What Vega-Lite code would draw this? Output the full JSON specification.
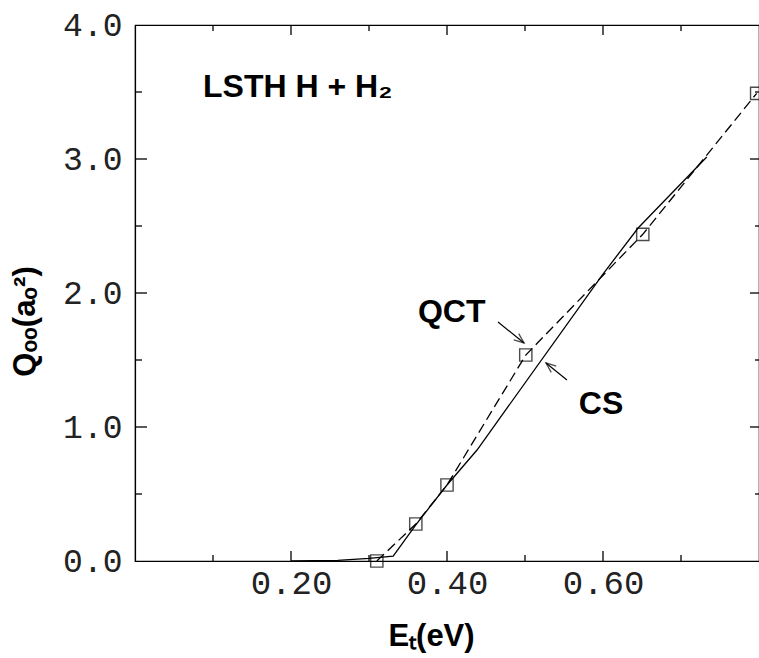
{
  "$schema": "https://vega.github.io/schema/vega-lite/v6.json",
  "width": 624,
  "height": 536,
  "autosize": {"type": "none"},
  "padding": {"left": 135, "top": 25, "right": 0, "bottom": 97},
  "background": "white",
  "config": {
    "view": {"stroke": "black", "strokeWidth": 1.2}
  },
  "datasets": {
    "cs": [
      {"E": 0.20, "Q": 0.0},
      {"E": 0.26, "Q": 0.005},
      {"E": 0.30, "Q": 0.02},
      {"E": 0.331, "Q": 0.037},
      {"E": 0.36, "Q": 0.27},
      {"E": 0.40, "Q": 0.567},
      {"E": 0.4385, "Q": 0.828},
      {"E": 0.599, "Q": 2.134},
      {"E": 0.645, "Q": 2.485},
      {"E": 0.733, "Q": 3.015}
    ],
    "qct": [
      {"E": 0.310, "Q": 0.0},
      {"E": 0.360, "Q": 0.276},
      {"E": 0.400, "Q": 0.567},
      {"E": 0.501, "Q": 1.537},
      {"E": 0.651, "Q": 2.438},
      {"E": 0.797, "Q": 3.49}
    ],
    "labels": [
      {"E": 0.0872, "Q": 3.463, "label": "LSTH H + H₂"},
      {"E": 0.3628, "Q": 1.784, "label": "QCT"},
      {"E": 0.569, "Q": 1.097, "label": "CS"}
    ],
    "arrows": [
      {"E": 0.4654, "Q": 1.784, "E2": 0.4987, "Q2": 1.627, "label": "QCT"},
      {"E": 0.5538, "Q": 1.351, "E2": 0.5269, "Q2": 1.478, "label": "CS"}
    ],
    "xticks": [
      {"E": 0.1, "kind": "minor"},
      {"E": 0.2, "kind": "major"},
      {"E": 0.3, "kind": "minor"},
      {"E": 0.4, "kind": "major"},
      {"E": 0.5, "kind": "minor"},
      {"E": 0.6, "kind": "major"},
      {"E": 0.7, "kind": "minor"}
    ],
    "yticks": [
      {"Q": 0.5, "kind": "minor"},
      {"Q": 1.0, "kind": "major"},
      {"Q": 1.5, "kind": "minor"},
      {"Q": 2.0, "kind": "major"},
      {"Q": 2.5, "kind": "minor"},
      {"Q": 3.0, "kind": "major"},
      {"Q": 3.5, "kind": "minor"}
    ]
  },
  "layer": [
    {
      "data": {"name": "cs"},
      "mark": {"type": "line", "color": "black", "strokeWidth": 1.3},
      "encoding": {
        "x": {
          "field": "E", "type": "quantitative",
          "scale": {"domain": [0, 0.8], "nice": false, "zero": false},
          "axis": {
            "orient": "bottom", "values": [0.2, 0.4, 0.6], "format": ".2f", "grid": false,
            "domainColor": "black", "domainWidth": 1.2,
            "ticks": false, "tickSize": 0,
            "labelPadding": 5, "labelFontSize": 34, "labelFont": "Liberation Mono", "labelColor": "#222",
            "title": "Eₜ(eV)", "titleFontSize": 31, "titleFont": "Liberation Sans", "titleFontWeight": "bold", "titleColor": "black",
            "titleX": 296, "titleY": 84, "titleAlign": "center", "titleBaseline": "alphabetic"
          }
        },
        "y": {
          "field": "Q", "type": "quantitative",
          "scale": {"domain": [0, 4], "nice": false, "zero": false},
          "axis": {
            "orient": "left", "values": [0, 1, 2, 3, 4], "format": ".1f", "grid": false,
            "domainColor": "black", "domainWidth": 1.2,
            "ticks": false, "tickSize": 0,
            "labelPadding": 13, "labelFontSize": 33, "labelFont": "Liberation Mono", "labelColor": "#222",
            "title": "Qₒₒ(aₒ²)", "titleFontSize": 31, "titleFont": "Liberation Sans", "titleFontWeight": "bold", "titleColor": "black",
            "titleX": -101, "titleY": 296, "titleAngle": 270, "titleAlign": "center", "titleBaseline": "alphabetic"
          }
        }
      }
    },
    {
      "data": {"name": "qct"},
      "mark": {"type": "line", "color": "black", "strokeWidth": 1.3, "strokeDash": [10, 5]},
      "encoding": {
        "x": {"field": "E", "type": "quantitative", "axis": null},
        "y": {"field": "Q", "type": "quantitative", "axis": null}
      }
    },
    {
      "data": {"name": "qct"},
      "mark": {"type": "point", "shape": "square", "size": 150, "filled": false, "stroke": "black", "strokeWidth": 1.4},
      "encoding": {
        "x": {"field": "E", "type": "quantitative", "axis": null},
        "y": {"field": "Q", "type": "quantitative", "axis": null}
      }
    },
    {
      "data": {"name": "labels"},
      "mark": {"type": "text", "align": "left", "baseline": "alphabetic", "font": "Liberation Sans", "fontWeight": "bold", "fontSize": 32, "color": "black"},
      "encoding": {
        "x": {"field": "E", "type": "quantitative", "axis": null},
        "y": {"field": "Q", "type": "quantitative", "axis": null},
        "text": {"field": "label"}
      }
    },
    {
      "data": {"name": "arrows"},
      "mark": {"type": "rule", "color": "black", "strokeWidth": 1.2},
      "encoding": {
        "x": {"field": "E", "type": "quantitative", "axis": null},
        "y": {"field": "Q", "type": "quantitative", "axis": null},
        "x2": {"field": "E2"},
        "y2": {"field": "Q2"}
      }
    },
    {
      "data": {"name": "arrows"},
      "transform": [{"filter": "datum.label === 'QCT'"}],
      "mark": {"type": "point", "shape": "M-0.4,1L0,0L0.4,1", "size": 400, "filled": false, "stroke": "black", "strokeWidth": 1.3, "angle": 129},
      "encoding": {
        "x": {"field": "E2", "type": "quantitative", "axis": null},
        "y": {"field": "Q2", "type": "quantitative", "axis": null}
      }
    },
    {
      "data": {"name": "arrows"},
      "transform": [{"filter": "datum.label === 'CS'"}],
      "mark": {"type": "point", "shape": "M-0.4,1L0,0L0.4,1", "size": 400, "filled": false, "stroke": "black", "strokeWidth": 1.3, "angle": 309},
      "encoding": {
        "x": {"field": "E2", "type": "quantitative", "axis": null},
        "y": {"field": "Q2", "type": "quantitative", "axis": null}
      }
    },
    {
      "data": {"name": "xticks"},
      "transform": [{"filter": "datum.kind === 'major'"}],
      "mark": {"type": "tick", "orient": "vertical", "size": 10, "thickness": 1.3, "yOffset": -5, "color": "black", "opacity": 1},
      "encoding": {
        "x": {"field": "E", "type": "quantitative", "axis": null},
        "y": {"datum": 0, "type": "quantitative", "axis": null}
      }
    },
    {
      "data": {"name": "xticks"},
      "transform": [{"filter": "datum.kind === 'minor'"}],
      "mark": {"type": "tick", "orient": "vertical", "size": 6, "thickness": 1.3, "yOffset": -3, "color": "black", "opacity": 1},
      "encoding": {
        "x": {"field": "E", "type": "quantitative", "axis": null},
        "y": {"datum": 0, "type": "quantitative", "axis": null}
      }
    },
    {
      "data": {"name": "xticks"},
      "transform": [{"filter": "datum.kind === 'major'"}],
      "mark": {"type": "tick", "orient": "vertical", "size": 10, "thickness": 1.3, "yOffset": 5, "color": "black", "opacity": 1},
      "encoding": {
        "x": {"field": "E", "type": "quantitative", "axis": null},
        "y": {"datum": 4, "type": "quantitative", "axis": null}
      }
    },
    {
      "data": {"name": "xticks"},
      "transform": [{"filter": "datum.kind === 'minor'"}],
      "mark": {"type": "tick", "orient": "vertical", "size": 6, "thickness": 1.3, "yOffset": 3, "color": "black", "opacity": 1},
      "encoding": {
        "x": {"field": "E", "type": "quantitative", "axis": null},
        "y": {"datum": 4, "type": "quantitative", "axis": null}
      }
    },
    {
      "data": {"name": "yticks"},
      "transform": [{"filter": "datum.kind === 'major'"}],
      "mark": {"type": "tick", "orient": "horizontal", "size": 12, "thickness": 1.3, "xOffset": 6, "color": "black", "opacity": 1},
      "encoding": {
        "y": {"field": "Q", "type": "quantitative", "axis": null},
        "x": {"datum": 0, "type": "quantitative", "axis": null}
      }
    },
    {
      "data": {"name": "yticks"},
      "transform": [{"filter": "datum.kind === 'minor'"}],
      "mark": {"type": "tick", "orient": "horizontal", "size": 7, "thickness": 1.3, "xOffset": 3.5, "color": "black", "opacity": 1},
      "encoding": {
        "y": {"field": "Q", "type": "quantitative", "axis": null},
        "x": {"datum": 0, "type": "quantitative", "axis": null}
      }
    },
    {
      "data": {"name": "yticks"},
      "transform": [{"filter": "datum.kind === 'major'"}],
      "mark": {"type": "tick", "orient": "horizontal", "size": 9, "thickness": 1.3, "xOffset": -4.5, "color": "black", "opacity": 1},
      "encoding": {
        "y": {"field": "Q", "type": "quantitative", "axis": null},
        "x": {"datum": 0.8, "type": "quantitative", "axis": null}
      }
    },
    {
      "data": {"name": "yticks"},
      "transform": [{"filter": "datum.kind === 'minor'"}],
      "mark": {"type": "tick", "orient": "horizontal", "size": 4, "thickness": 1.3, "xOffset": -2, "color": "black", "opacity": 1},
      "encoding": {
        "y": {"field": "Q", "type": "quantitative", "axis": null},
        "x": {"datum": 0.8, "type": "quantitative", "axis": null}
      }
    }
  ],
  "resolve": {"axis": {"x": "independent", "y": "independent"}}
}
